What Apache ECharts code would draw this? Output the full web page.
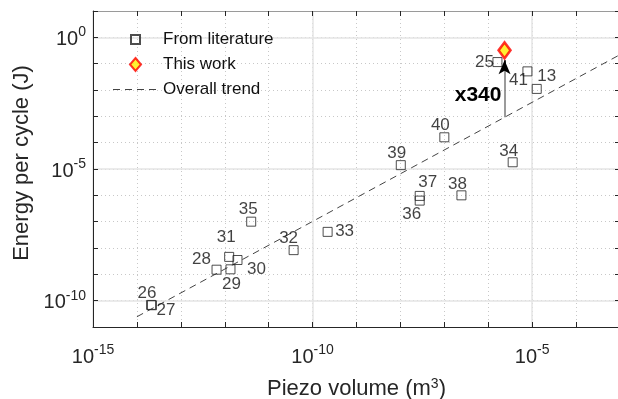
<!DOCTYPE html>
<html>
<head>
<meta charset="utf-8">
<script src="https://cdn.jsdelivr.net/npm/echarts@6/dist/echarts.min.js"></script>
<style>
  html, body { margin: 0; padding: 0; background: #fff; }
  #chart { width: 618px; height: 399px; }
</style>
</head>
<body>
<div id="chart"></div>
<script>
// literature points
const litNames = ['25', '41', '13', '40', '39', '34', '37', '36', '38', '33', '35', '32', '31', '30', '29', '28', '26', '27'];
const litVolume = [1.62e-6, 7.8e-6, 1.27e-5, 1.0e-7, 1.02e-8, 3.6e-6, 2.75e-8, 2.75e-8, 2.45e-7, 2.2e-10, 4.0e-12, 3.7e-11, 1.26e-12, 1.95e-12, 1.35e-12, 6.5e-13, 2.1e-14, 2.2e-14];
const litEnergy = [0.115, 0.051, 0.011, 1.6e-4, 1.4e-5, 1.8e-5, 9.5e-7, 6.3e-7, 1.0e-6, 4.1e-8, 1.0e-7, 8.3e-9, 4.6e-9, 3.5e-9, 1.55e-9, 1.5e-9, 6.9e-11, 6.7e-11];

const thisVolume = [2.35e-6];
const thisEnergy = [0.32];

const trendVolume = [1e-14, 1e-3];
const trendEnergy = [2.45e-11, 0.22];

// improvement arrow from the trend line up to this work
const arrowVolume = 2.35e-6;
const arrowEnergy = [9.3e-4, 0.135];
const gainLabel = 'x340';
const gainLabelAt = [2.0e-6, 6.6e-3];

const xLimits = [1e-15, 1e-3];
const yLimits = [1e-11, 1e1];

// where each number sits relative to its square (px)
const labelOffsets = [[-13, 0], [-9, 9], [10, -13], [-4, -12], [-4, -12], [-4, -11], [8, -14], [-8, 14], [-4, -11],
  [17, -1], [-3, -12], [-5, -12], [-3, -20], [19, 9], [1, 15], [-15, -10], [-4, -12], [14, 5]];

const FONT = 'Liberation Sans, Arial, Helvetica, sans-serif';
const INK = '#262626';
const MINOR = '#c8c8c8';
const MAJOR = '#e4e4e4';

// legend glyphs: 45x14 boxes, corners pinned with zero-length segments
const ICON_SQUARE = 'path://M0,0L0,0M45,14L45,14M18,2.5h9v9h-9z';
const ICON_DIAMOND = 'path://M0,0L0,0M45,14L45,14M22.5,0.5L28,7L22.5,13.5L17,7Z';
const ICON_DASH = 'path://M0,0L0,0M45,14L45,14M0,6.5h7v1h-7zM12,6.5h7v1h-7zM24,6.5h7v1h-7zM36,6.5h7v1h-7z';

const expOf = v => Math.round(Math.log10(v));
const powLabel = v => {
  const e = expOf(v);
  return e % 5 === 0 ? '{b|10}{s|' + e + '}' : '';
};
const powRich = {
  b: { fontSize: 20, fontFamily: FONT, color: INK, lineHeight: 24, verticalAlign: 'bottom' },
  s: { fontSize: 14, fontFamily: FONT, color: INK, lineHeight: 24, verticalAlign: 'top' }
};

function decadeColors(majorIndex) {
  const out = [];
  for (let i = 0; i < 5; i++) out.push(i === majorIndex ? MAJOR : 'rgba(0,0,0,0)');
  return out;
}

const baseAxis = (limits) => ({
  type: 'log',
  logBase: 10,
  min: limits[0],
  max: limits[1],
  interval: 1,
  axisLine: { show: false },
  axisTick: { show: false },
  axisLabel: { show: false },
  splitLine: { show: false }
});

const xAxes = [
  Object.assign(baseAxis(xLimits), {
    position: 'bottom',
    axisLine: { show: true, onZero: false, lineStyle: { color: INK, width: 1 } },
    axisTick: { show: true, inside: true, length: 5, lineStyle: { color: INK } },
    axisLabel: { show: true, formatter: powLabel, rich: powRich, margin: 16 },
    splitLine: { show: true, lineStyle: { color: MINOR, type: [1, 3], width: 1 } },
    name: 'Piezo volume (m{s|3})',
    nameLocation: 'middle',
    nameGap: 50,
    nameTextStyle: { fontSize: 22, fontFamily: FONT, color: INK,
      rich: { s: { fontSize: 14, fontFamily: FONT, color: INK, verticalAlign: 'top', lineHeight: 24 } } }
  }),
  Object.assign(baseAxis(xLimits), {
    position: 'bottom',
    splitLine: { show: true, lineStyle: { color: decadeColors(0), width: 1.5 } }
  }),
  Object.assign(baseAxis(xLimits), {
    position: 'top',
    axisLine: { show: true, onZero: false, lineStyle: { color: '#9a9a9a', width: 1 } },
    axisTick: { show: true, inside: true, length: 5, lineStyle: { color: INK } }
  })
];

const yAxes = [
  Object.assign(baseAxis(yLimits), {
    position: 'left',
    axisLine: { show: true, onZero: false, lineStyle: { color: INK, width: 1 } },
    axisTick: { show: true, inside: true, length: 5, lineStyle: { color: INK } },
    axisLabel: { show: true, formatter: powLabel, rich: powRich, margin: 7 },
    splitLine: { show: true, lineStyle: { color: MINOR, type: [1, 3], width: 1 } },
    name: 'Energy per cycle (J)',
    nameLocation: 'middle',
    nameGap: 49,
    nameTextStyle: { fontSize: 22, fontFamily: FONT, color: INK, padding: [0, 0, 0, 12] }
  }),
  Object.assign(baseAxis(yLimits), {
    position: 'left',
    splitLine: { show: true, lineStyle: { color: decadeColors(1), width: 1.5 } }
  }),
  Object.assign(baseAxis(yLimits), {
    position: 'right',
    axisLine: { show: true, onZero: false, lineStyle: { color: '#9a9a9a', width: 1 } },
    axisTick: { show: true, inside: true, length: 5, lineStyle: { color: INK } }
  })
];

const litData = litNames.map((n, i) => ({
  value: [litVolume[i], litEnergy[i]],
  name: n,
  label: { offset: labelOffsets[i] }
}));

const chart = echarts.init(document.getElementById('chart'), null, { renderer: 'canvas' });

chart.setOption({
  animation: false,
  backgroundColor: '#ffffff',
  textStyle: { fontFamily: FONT },
  grid: { left: 93, right: -2, top: 11, bottom: 72, containLabel: false, outerBoundsMode: 'none' },
  legend: {
    orient: 'vertical',
    left: 107,
    top: 26,
    itemWidth: 45,
    itemHeight: 14,
    itemGap: 8,
    textStyle: { fontSize: 17, fontFamily: FONT, color: '#111', lineHeight: 14 },
    data: [
      { name: 'From literature', icon: ICON_SQUARE },
      { name: 'This work', icon: ICON_DIAMOND },
      { name: 'Overall trend', icon: ICON_DASH }
    ]
  },
  xAxis: xAxes,
  yAxis: yAxes,
  series: [
    {
      name: 'Overall trend',
      type: 'line',
      symbol: 'none',
      z: 3,
      lineStyle: { color: '#444', width: 1, type: [7, 5] },
      itemStyle: { color: '#444' },
      data: trendVolume.map((v, i) => [v, trendEnergy[i]])
    },
    {
      name: 'From literature',
      type: 'scatter',
      symbol: 'rect',
      symbolSize: 9,
      z: 4,
      itemStyle: { color: 'rgba(255,255,255,0)', borderColor: '#222', borderWidth: 1 },
      label: {
        show: true,
        position: 'inside',
        formatter: '{b}',
        fontSize: 17,
        fontFamily: FONT,
        color: '#111'
      },
      data: litData
    },
    {
      name: 'This work',
      type: 'scatter',
      symbol: 'diamond',
      symbolSize: [12, 16],
      z: 6,
      itemStyle: { color: '#ffee00', borderColor: '#ff0000', borderWidth: 2.5 },
      data: thisVolume.map((v, i) => [v, thisEnergy[i]]),
      markLine: {
        silent: true,
        animation: false,
        symbol: ['none', 'none'],
        label: { show: false },
        data: [
          [
            { coord: [arrowVolume, arrowEnergy[0]], lineStyle: { color: '#7a7a7a', width: 1.5, type: 'solid' } },
            { coord: [arrowVolume, arrowEnergy[1]] }
          ],
          [
            { coord: [arrowVolume, 0.07], symbol: 'none', lineStyle: { color: '#000', width: 1.5, type: 'solid' } },
            { coord: [arrowVolume, arrowEnergy[1]], symbol: 'arrow', symbolSize: [9, 14] }
          ]
        ]
      },
      markPoint: {
        silent: true,
        symbol: 'circle',
        symbolSize: 0,
        label: {
          show: true,
          position: 'left',
          distance: 0,
          formatter: gainLabel,
          fontSize: 21,
          fontWeight: 'bold',
          fontFamily: FONT,
          color: '#000'
        },
        data: [{ coord: gainLabelAt }]
      }
    }
  ]
});
</script>
</body>
</html>
